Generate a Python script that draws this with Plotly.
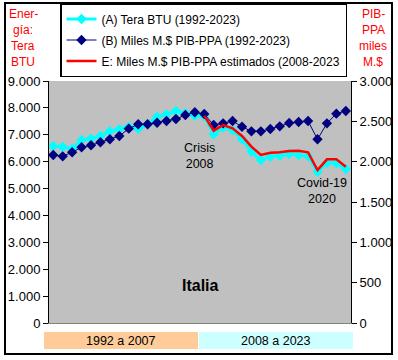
import plotly.graph_objects as go

years = list(range(1992, 2024))
years_est = list(range(2008, 2024))

# (A) Tera BTU (left axis)
energia_tbtu = [6580, 6545, 6480, 6805, 6855, 6955, 7130, 7205, 7300, 7225, 7390, 7670,
                7760, 7885, 7800, 7710, 7700, 7020, 7265, 7175, 6830, 6370, 6060, 6185,
                6220, 6285, 6250, 6210, 5625, 5960, 5940, 5725]
# (B) Miles M.$ PIB-PPA (right axis)
pib_ppa = [2083, 2066, 2116, 2178, 2203, 2240, 2277, 2318, 2409, 2463, 2463, 2483,
           2504, 2529, 2578, 2612, 2591, 2454, 2475, 2504, 2433, 2376, 2376, 2405,
           2438, 2479, 2492, 2504, 2277, 2475, 2595, 2628]
# E: Miles M.$ PIB-PPA estimados (right axis)
pib_est = [2570, 2384, 2454, 2413, 2318, 2186, 2083, 2111, 2116, 2132, 2136, 2116,
           1897, 2029, 2029, 1938]

left_ticks = [0, 1000, 2000, 3000, 4000, 5000, 6000, 7000, 8000, 9000]
right_ticks = [0, 500, 1000, 1500, 2000, 2500, 3000]

FONT = "Liberation Sans, Arial, sans-serif"

fig = go.Figure()
fig.add_trace(go.Scatter(
    x=years, y=energia_tbtu, name="(A) Tera BTU (1992-2023)", yaxis="y",
    mode="lines+markers", line=dict(color="#00FFFF", width=3),
    marker=dict(symbol="diamond", size=8, color="#00FFFF"),
    legendgroup="a"))
fig.add_trace(go.Scatter(
    x=years, y=pib_ppa, name="(B) Miles M.$ PIB-PPA (1992-2023)", yaxis="y2",
    mode="lines+markers", line=dict(color="#000080", width=1),
    marker=dict(symbol="diamond", size=8, color="#000080"),
    legendgroup="b"))
fig.add_trace(go.Scatter(
    x=years_est, y=pib_est, name="E: Miles M.$ PIB-PPA estimados (2008-2023", yaxis="y2",
    mode="lines", line=dict(color="#FF0000", width=2.5),
    legendgroup="e"))

L, R, T, B = 49, 351, 81, 323
W, H = R - L, B - T
def px(x):
    return (x - L) / W
def py(y):
    return (B - y) / H

shapes = [
    dict(type="rect", xref="paper", yref="paper", x0=px(5), x1=px(392), y0=py(354), y1=py(3),
         line=dict(color="black", width=2), fillcolor="rgba(0,0,0,0)", layer="below"),
    dict(type="rect", xref="paper", yref="paper", x0=px(44), x1=px(198), y0=py(349), y1=py(332),
         line=dict(width=0), fillcolor="#FFCC99"),
    dict(type="rect", xref="paper", yref="paper", x0=px(199), x1=px(353), y0=py(349), y1=py(332),
         line=dict(width=0), fillcolor="#CCFFFF"),
]

annotations = []
def ann(text, x, y, size=12, color="black", bold=False):
    annotations.append(dict(text=("<b>%s</b>" % text) if bold else text,
                            xref="paper", yref="paper", x=px(x), y=py(y),
                            xanchor="center", yanchor="middle", showarrow=False,
                            font=dict(family=FONT, size=size, color=color)))

for i, t in enumerate(["Ener-", "gía:", "Tera", "BTU"]):
    ann(t, 23, 14 + 16 * i, size=12, color="#FF0000")
for i, t in enumerate(["PIB-", "PPA", "miles", "M.$"]):
    ann(t, 373, 14 + 16 * i, size=12, color="#FF0000")
ann("Crisis<br>2008", 199, 156, size=12.5)
ann("Covid-19<br>2020", 322, 191, size=12.5)
ann("Italia", 200, 285, size=16, bold=True)
ann("1992 a 2007", 121, 341, size=12.5)
ann("2008 a 2023", 276, 341, size=12.5)

fig.update_layout(
    width=398, height=360,
    margin=dict(l=L, r=398 - R, t=T, b=360 - B, pad=0, autoexpand=False),
    paper_bgcolor="white", plot_bgcolor="#C0C0C0",
    separators=",.",
    font=dict(family=FONT, size=12, color="black"),
    showlegend=True,
    legend=dict(x=px(60), y=py(3), xanchor="left", yanchor="top",
                bgcolor="white", bordercolor="black", borderwidth=1.5,
                font=dict(family=FONT, size=12, color="black"),
                traceorder="grouped", tracegroupgap=2),
    xaxis=dict(type="category", range=[-0.45, 31.55], showticklabels=False,
               showgrid=False, zeroline=False, showline=True, linecolor="#808080",
               linewidth=1, ticks=""),
    yaxis=dict(range=[0, 9000], tickvals=left_ticks, tickformat=",d", showgrid=False,
               zeroline=False, showline=True, linecolor="black", linewidth=1,
               ticks="outside", ticklen=5, tickcolor="black",
               tickfont=dict(family=FONT, size=13, color="black")),
    yaxis2=dict(range=[0, 3000], tickvals=right_ticks, tickformat=",d", overlaying="y",
                side="right", showgrid=False, zeroline=False, showline=True,
                linecolor="black", linewidth=1, ticks="outside", ticklen=5,
                tickcolor="black", tickfont=dict(family=FONT, size=13, color="black")),
    shapes=shapes, annotations=annotations,
)

fig.write_html("out.html", config={"displayModeBar": False},
               post_script="document.body.style.margin='0';document.body.style.padding='0';")
